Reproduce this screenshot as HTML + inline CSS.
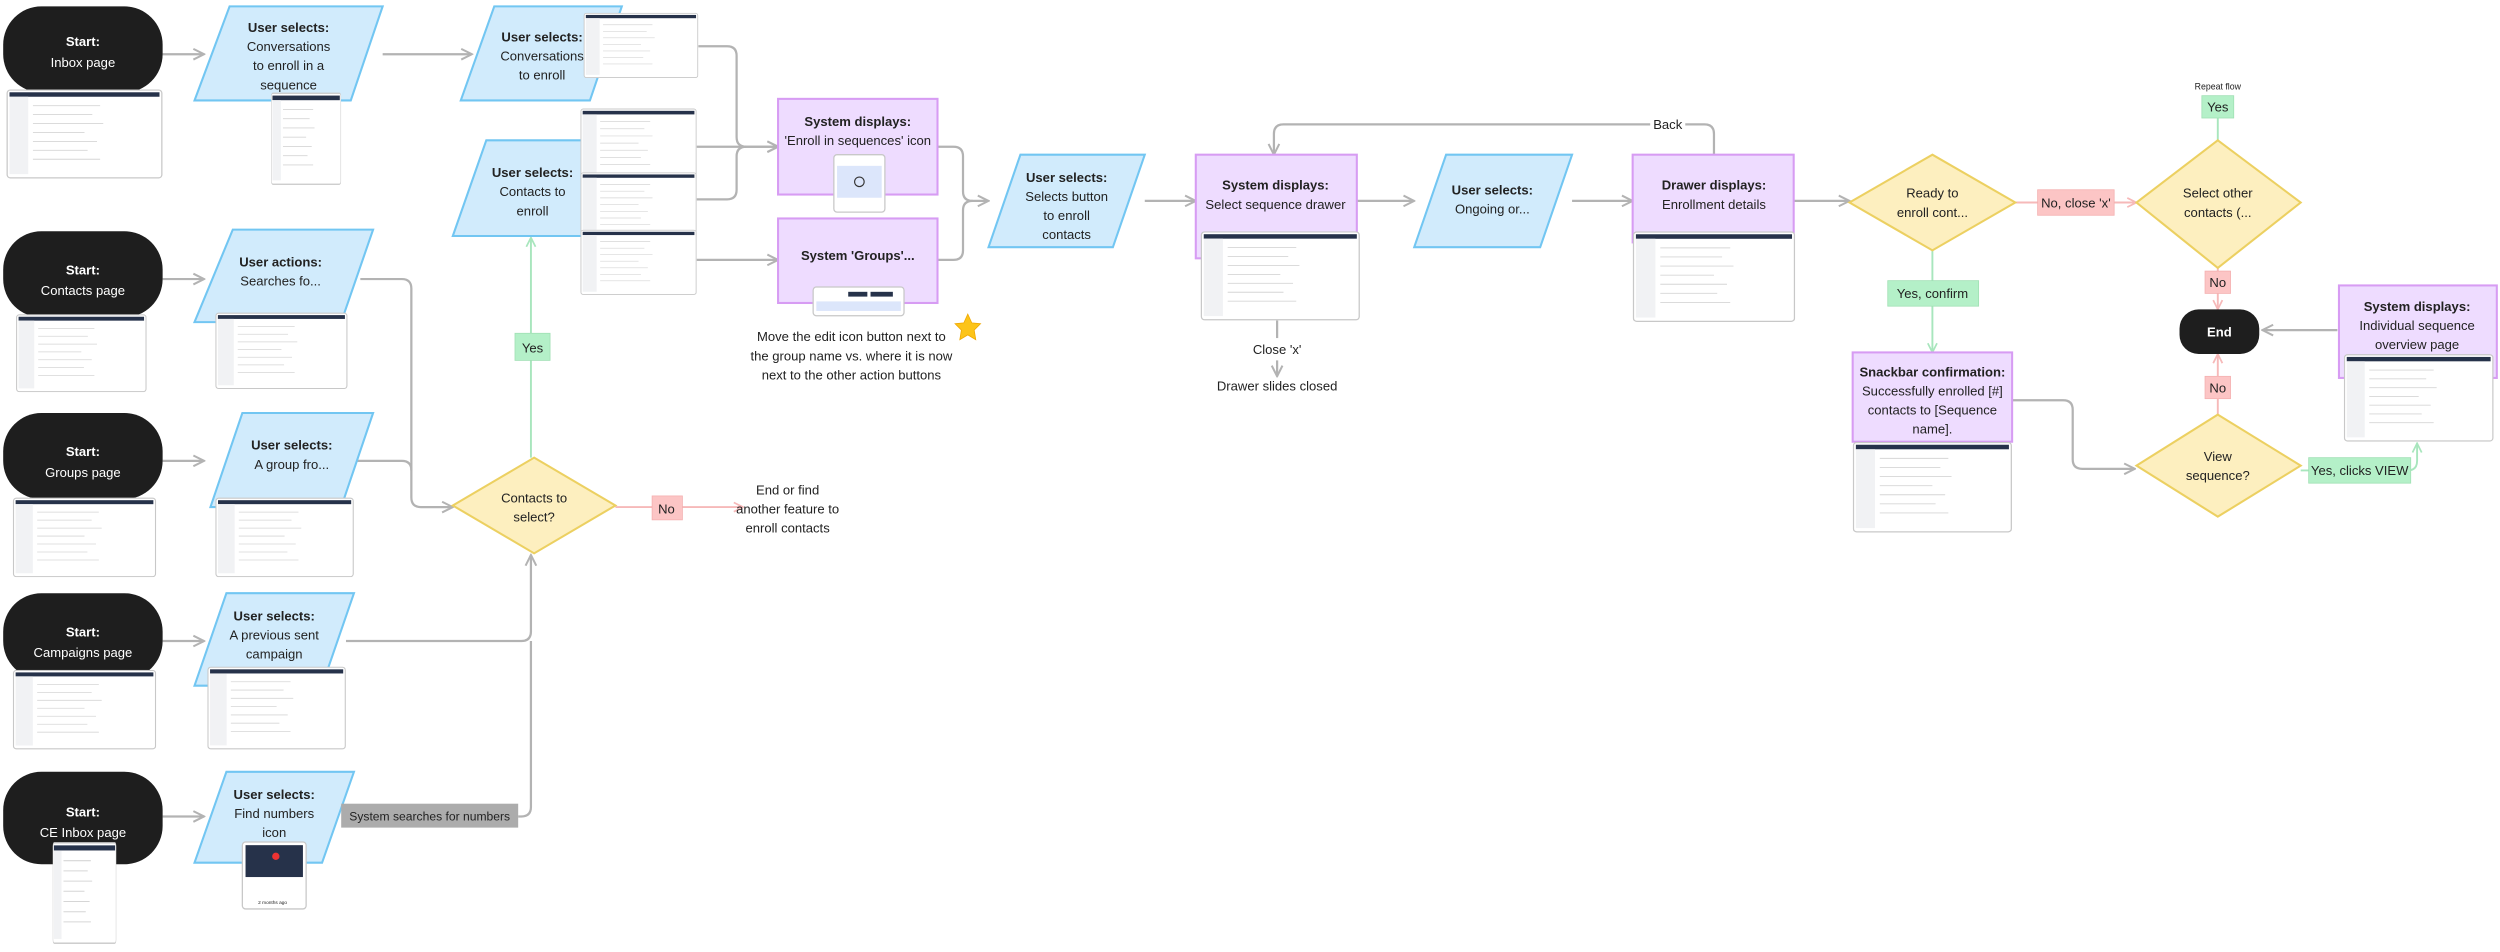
<!DOCTYPE html>
<html><head><meta charset="utf-8"><style>
html,body{margin:0;padding:0;background:#fff;}
svg{display:block;}
text{font-family:"Liberation Sans",sans-serif;font-size:8.2px;fill:#222;text-anchor:middle;}
.b{font-weight:bold;}
.w{fill:#fff;}
.c{fill:none;stroke:#b3b3b3;stroke-width:1.4;}
.g{fill:none;stroke:#a8e6bd;stroke-width:1.2;}
.r{fill:none;stroke:#f6b9b9;stroke-width:1.2;}
.par{fill:#d1ebfc;stroke:#72c6f2;stroke-width:1.3;}
.pur{fill:#eedcff;stroke:#d79cf3;stroke-width:1.3;}
.dia{fill:#fdefbf;stroke:#ecd061;stroke-width:1.3;}
.st{fill:#1e1e1e;}
.shot{fill:#fff;stroke:#c8c8c8;stroke-width:0.8;}
</style></head><body>
<svg width="2500" height="952" viewBox="0 0 1568 597" preserveAspectRatio="none" xmlns="http://www.w3.org/2000/svg">
<defs>
<symbol id="sh" viewBox="0 0 100 60" preserveAspectRatio="none">
<rect x="0.5" y="0.5" width="99" height="59" rx="2" fill="#fff" stroke="#c8c8c8" stroke-width="0.8"/>
<rect x="2" y="2" width="96" height="3" fill="#26324a"/>
<rect x="2" y="5" width="12" height="52" fill="#f1f2f4"/>
<g stroke="#d6d6d6" stroke-width="0.6">
<line x1="17" y1="11" x2="60" y2="11"/><line x1="17" y1="17" x2="55" y2="17"/><line x1="17" y1="23" x2="62" y2="23"/><line x1="17" y1="29" x2="50" y2="29"/><line x1="17" y1="35" x2="58" y2="35"/><line x1="17" y1="41" x2="52" y2="41"/><line x1="17" y1="47" x2="60" y2="47"/>
</g>
</symbol>
<marker id="ag" viewBox="0 0 10 10" refX="9" refY="5" markerWidth="6" markerHeight="6" orient="auto"><path d="M1,1 L9,5 L1,9" fill="none" stroke="#b3b3b3" stroke-width="1.5"/></marker>
<marker id="agr" viewBox="0 0 10 10" refX="9" refY="5" markerWidth="6" markerHeight="6" orient="auto"><path d="M1,1 L9,5 L1,9" fill="none" stroke="#a8e6bd" stroke-width="1.5"/></marker>
<marker id="ar" viewBox="0 0 10 10" refX="9" refY="5" markerWidth="6" markerHeight="6" orient="auto"><path d="M1,1 L9,5 L1,9" fill="none" stroke="#f6b9b9" stroke-width="1.5"/></marker>
</defs>

<g class="c">
<path d="M102,34 H128" marker-end="url(#ag)"/>
<path d="M240,34 H296" marker-end="url(#ag)"/>
<path d="M438,29 H456 Q462,29 462,35 V86 Q462,92 468,92 H488" marker-end="url(#ag)"/>
<path d="M437,92 H488" marker-end="url(#ag)"/>
<path d="M437,125 H456 Q462,125 462,119 V98 Q462,92 468,92"/>
<path d="M437,163 H488" marker-end="url(#ag)"/>
<path d="M588,92 H598 Q604,92 604,98 V120 Q604,126 610,126 H620" marker-end="url(#ag)"/>
<path d="M588,163 H598 Q604,163 604,157 V132 Q604,126 610,126"/>
<path d="M718,126 H750" marker-end="url(#ag)"/>
<path d="M851,126 H887" marker-end="url(#ag)"/>
<path d="M986,126 H1024" marker-end="url(#ag)"/>
<path d="M1125,126 H1160" marker-end="url(#ag)"/>
<path d="M1075,97 V84 Q1075,78 1069,78 H805 Q799,78 799,84 V97" marker-end="url(#ag)"/>
<path d="M801,201 V212"/>
<path d="M801,226 V236" marker-end="url(#ag)"/>
<path d="M1466,207 H1419" marker-end="url(#ag)"/>
<path d="M1262,251 H1294 Q1300,251 1300,257 V288 Q1300,294 1306,294 H1339" marker-end="url(#ag)"/>
<path d="M102,175 H128" marker-end="url(#ag)"/>
<path d="M102,289 H128" marker-end="url(#ag)"/>
<path d="M102,402 H128" marker-end="url(#ag)"/>
<path d="M102,512 H128" marker-end="url(#ag)"/>
<path d="M226,175 H252 Q258,175 258,181 V312 Q258,318 264,318 H284" marker-end="url(#ag)"/>
<path d="M222,289 H252 Q258,289 258,295"/>
<path d="M217,402 H327 Q333,402 333,396 V348" marker-end="url(#ag)"/>
<path d="M325,512 H327 Q333,512 333,506 V402"/>
</g>
<g class="g">
<path d="M333,287 V149" marker-end="url(#agr)"/>
<path d="M1212,157 V221" marker-end="url(#agr)"/>
<path d="M1443,295 H1510 Q1516,295 1516,289 V278" marker-end="url(#agr)"/>
<path d="M1391,88 V74"/>
</g>
<g class="r">
<path d="M386,318 H466" marker-end="url(#ar)"/>
<path d="M1264,127 H1340" marker-end="url(#ar)"/>
<path d="M1391,168 V194" marker-end="url(#ar)"/>
<path d="M1391,260 V222" marker-end="url(#ar)"/>
</g>

<rect class="st" x="2" y="4" width="100" height="54" rx="24"/>
<text class="w b" x="52" y="29">Start:</text><text class="w" x="52" y="42">Inbox page</text>
<use href="#sh" x="4" y="56" width="98" height="56"/>
<rect class="st" x="2" y="145" width="100" height="54" rx="24"/>
<text class="w b" x="52" y="172">Start:</text><text class="w" x="52" y="185">Contacts page</text>
<use href="#sh" x="10" y="197" width="82" height="49"/>
<rect class="st" x="2" y="259" width="100" height="54" rx="24"/>
<text class="w b" x="52" y="286">Start:</text><text class="w" x="52" y="299">Groups page</text>
<use href="#sh" x="8" y="312" width="90" height="50"/>
<rect class="st" x="2" y="372" width="100" height="54" rx="24"/>
<text class="w b" x="52" y="399">Start:</text><text class="w" x="52" y="412">Campaigns page</text>
<use href="#sh" x="8" y="420" width="90" height="50"/>
<rect class="st" x="2" y="484" width="100" height="58" rx="24"/>
<text class="w b" x="52" y="512">Start:</text><text class="w" x="52" y="525">CE Inbox page</text>
<use href="#sh" x="33" y="528" width="40" height="64"/>

<polygon class="par" points="144,4 240,4 220,63 122,63"/>
<text class="b" x="181" y="20">User selects:</text><text x="181" y="32">Conversations</text><text x="181" y="44">to enroll in a</text><text x="181" y="56">sequence</text>
<use href="#sh" x="170" y="58" width="44" height="58"/>

<polygon class="par" points="310,4 390,4 370,63 289,63"/>
<text class="b" x="340" y="26">User selects:</text><text x="340" y="38">Conversations</text><text x="340" y="50">to enroll</text>
<use href="#sh" x="366" y="8" width="72" height="41"/>

<polygon class="par" points="305,88 385,88 365,148 284,148"/>
<text class="b" x="334" y="111">User selects:</text><text x="334" y="123">Contacts to</text><text x="334" y="135">enroll</text>
<use href="#sh" x="364" y="68" width="73" height="45"/>
<use href="#sh" x="364" y="108" width="73" height="42"/>
<use href="#sh" x="364" y="144" width="73" height="41"/>

<polygon class="par" points="146,144 234,144 214,202 122,202"/>
<text class="b" x="176" y="167">User actions:</text><text x="176" y="179">Searches fo...</text>
<use href="#sh" x="135" y="196" width="83" height="48"/>

<polygon class="par" points="152,259 234,259 214,318 132,318"/>
<text class="b" x="183" y="282">User selects:</text><text x="183" y="294">A group fro...</text>
<use href="#sh" x="135" y="312" width="87" height="50"/>

<polygon class="par" points="142,372 222,372 202,430 122,430"/>
<text class="b" x="172" y="389">User selects:</text><text x="172" y="401">A previous sent</text><text x="172" y="413">campaign</text>
<use href="#sh" x="130" y="418" width="87" height="52"/>

<polygon class="par" points="142,484 222,484 202,541 122,541"/>
<text class="b" x="172" y="501">User selects:</text><text x="172" y="513">Find numbers</text><text x="172" y="525">icon</text>
<rect class="shot" x="152" y="528" width="40" height="42" rx="2"/>
<rect x="154" y="530" width="36" height="20" fill="#26324a"/>
<circle cx="173" cy="537" r="2.3" fill="#e33"/>
<text x="171" y="567" style="font-size:3px">2 months ago</text>

<rect x="214" y="504" width="111" height="15" fill="#acacac"/>
<text x="269.5" y="514.5" style="font-size:7.6px">System searches for numbers</text>

<polygon class="par" points="640,97 718,97 698,155 620,155"/>
<text class="b" x="669" y="114">User selects:</text><text x="669" y="126">Selects button</text><text x="669" y="138">to enroll</text><text x="669" y="150">contacts</text>

<polygon class="par" points="907,97 986,97 966,155 887,155"/>
<text class="b" x="936" y="122">User selects:</text><text x="936" y="134">Ongoing or...</text>

<rect class="pur" x="488" y="62" width="100" height="60"/>
<text class="b" x="538" y="79">System displays:</text><text x="538" y="91">'Enroll in sequences' icon</text>
<rect class="shot" x="523" y="97" width="32" height="36" rx="2"/>
<rect x="525" y="104" width="28" height="20" fill="#dce6fb"/>
<circle cx="539" cy="114" r="3" fill="none" stroke="#333" stroke-width="0.7"/>

<rect class="pur" x="488" y="137" width="100" height="53"/>
<text class="b" x="538" y="163">System 'Groups'...</text>
<rect class="shot" x="510" y="180" width="57" height="18" rx="2"/>
<rect x="512" y="189" width="53" height="6" fill="#dce6fb"/>
<rect x="532" y="183" width="12" height="3" fill="#26324a"/><rect x="546" y="183" width="14" height="3" fill="#26324a"/>

<text x="534" y="214">Move the edit icon button next to</text>
<text x="534" y="226">the group name vs. where it is now</text>
<text x="534" y="238">next to the other action buttons</text>
<polygon points="607,197 609.5,202.5 615,203 611,207 612,213 607,210 602,213 603,207 599,203 604.5,202.5" fill="#fcc419" stroke="#f0a800" stroke-width="0.5"/>

<rect class="pur" x="750" y="97" width="101" height="65"/>
<text class="b" x="800" y="119">System displays:</text><text x="800" y="131">Select sequence drawer</text>
<use href="#sh" x="753" y="145" width="100" height="56"/>
<text x="801" y="222">Close 'x'</text>
<text x="801" y="245">Drawer slides closed</text>

<rect class="pur" x="1024" y="97" width="101" height="55"/>
<text class="b" x="1075" y="119">Drawer displays:</text><text x="1075" y="131">Enrollment details</text>
<use href="#sh" x="1024" y="145" width="102" height="57"/>
<rect x="1035" y="72" width="22" height="12" fill="#fff"/>
<text x="1046" y="81">Back</text>

<rect class="pur" x="1162" y="221" width="100" height="56"/>
<text class="b" x="1212" y="236">Snackbar confirmation:</text><text x="1212" y="248">Successfully enrolled [#]</text><text x="1212" y="260">contacts to [Sequence</text><text x="1212" y="272">name].</text>
<use href="#sh" x="1162" y="277" width="100" height="57"/>

<rect class="pur" x="1467" y="179" width="99" height="58"/>
<text class="b" x="1516" y="195">System displays:</text><text x="1516" y="207">Individual sequence</text><text x="1516" y="219">overview page</text>
<use href="#sh" x="1470" y="222" width="94" height="55"/>

<polygon class="dia" points="335,287 386,317 335,347 284,317"/>
<text x="335" y="315">Contacts to</text><text x="335" y="327">select?</text>
<polygon class="dia" points="1212,97 1264,127 1212,157 1160,127"/>
<text x="1212" y="124">Ready to</text><text x="1212" y="136">enroll cont...</text>
<polygon class="dia" points="1391,88 1443,127 1391,168 1340,127"/>
<text x="1391" y="124">Select other</text><text x="1391" y="136">contacts (...</text>
<polygon class="dia" points="1391,260 1443,292 1391,324 1340,292"/>
<text x="1391" y="289">View</text><text x="1391" y="301">sequence?</text>

<rect class="st" x="1367" y="194" width="50" height="28" rx="12"/>
<text class="w b" x="1392" y="211">End</text>

<rect x="323" y="209" width="22" height="17" fill="#b4f0c8" stroke="#a0e0b4" stroke-width="0.5"/><text x="334" y="221">Yes</text>
<rect x="409" y="311" width="19" height="15" fill="#fcc5c5" stroke="#f4b0b0" stroke-width="0.5"/><text x="418" y="322">No</text>
<text x="494" y="310">End or find</text><text x="494" y="322">another feature to</text><text x="494" y="334">enroll contacts</text>
<rect x="1278" y="119" width="48" height="16" fill="#fcc5c5" stroke="#f4b0b0" stroke-width="0.5"/><text x="1302" y="130">No, close 'x'</text>
<rect x="1381" y="60" width="20" height="14" fill="#b4f0c8" stroke="#a0e0b4" stroke-width="0.5"/><text x="1391" y="70">Yes</text>
<text x="1391" y="56" style="font-size:5.5px">Repeat flow</text>
<rect x="1383" y="170" width="16" height="14" fill="#fcc5c5" stroke="#f4b0b0" stroke-width="0.5"/><text x="1391" y="180">No</text>
<rect x="1383" y="236" width="16" height="14" fill="#fcc5c5" stroke="#f4b0b0" stroke-width="0.5"/><text x="1391" y="246">No</text>
<rect x="1184" y="176" width="57" height="16" fill="#b4f0c8" stroke="#a0e0b4" stroke-width="0.5"/><text x="1212" y="187">Yes, confirm</text>
<rect x="1448" y="287" width="64" height="16" fill="#b4f0c8" stroke="#a0e0b4" stroke-width="0.5"/><text x="1480" y="298">Yes, clicks VIEW</text>
</svg>
</body></html>
